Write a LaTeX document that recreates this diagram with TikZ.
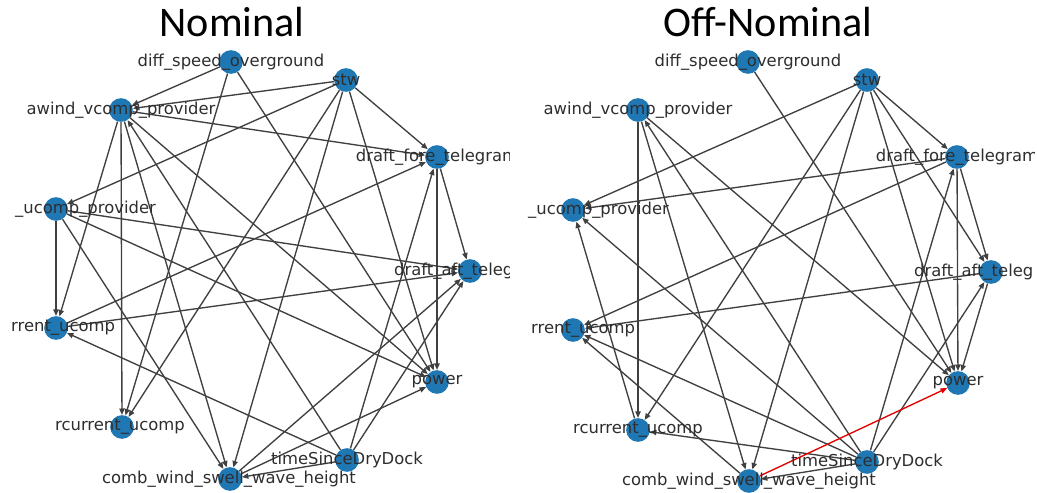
\documentclass[tikz,border=0pt]{standalone}
\usepackage{fontspec}
\setmainfont{DejaVu Sans}
\newfontfamily\titlefont{Carlito}
\usetikzlibrary{arrows.meta}
\definecolor{nxblue}{HTML}{1F77B4}
\begin{document}
\begin{tikzpicture}[x=0.03cm,y=-0.03cm,
  vtx/.style={circle,fill=nxblue,minimum size=0.71cm,inner sep=0pt},
  lbl/.style={inner sep=0pt,font=\fontsize{14}{16}\selectfont,text=black!82},
  edge/.style={draw=black!75,line width=1.15pt,-{Triangle[length=5.5pt,width=4.5pt]}},
  redge/.style={edge,draw=red!90!black},
  ttl/.style={font=\titlefont\fontsize{36}{40}\selectfont,anchor=base,inner sep=0pt}]
\useasboundingbox (0,0) rectangle (1037,492);
\fill[white] (0,0) rectangle (1037,492);
% titles
\node[ttl] (t1) at (232,36) {Nominal};
\node[ttl] (t2) at (768,36) {Off-Nominal};
% ---------- left graph nodes
\node[vtx] (D) at (231,62) {};
\node[vtx] (S) at (346,80) {};
\node[vtx] (A) at (121,110) {};
\node[vtx] (F) at (437,157) {};
\node[vtx] (U) at (56,209) {};
\node[vtx] (T) at (470,271) {};
\node[vtx] (C) at (56,328) {};
\node[vtx] (P) at (437,382) {};
\node[vtx] (R) at (122,427) {};
\node[vtx] (Y) at (347,460) {};
\node[vtx] (W) at (230,479) {};
% ---------- right graph nodes
\node[vtx] (D2) at (748,62) {};
\node[vtx] (S2) at (867,80) {};
\node[vtx] (A2) at (638,110) {};
\node[vtx] (F2) at (957,157) {};
\node[vtx] (U2) at (573,210) {};
\node[vtx] (T2) at (991,272) {};
\node[vtx] (C2) at (573,330) {};
\node[vtx] (P2) at (958,383) {};
\node[vtx] (R2) at (638,430) {};
\node[vtx] (Y2) at (867,462) {};
\node[vtx] (W2) at (749,481) {};
% ---------- left edges
\draw[edge] (D) -- (A);
\draw[edge] (D) -- (R);
\draw[edge] (D) -- (P);
\draw[edge] (S) -- (A);
\draw[edge] (S) -- (U);
\draw[edge] (S) -- (R);
\draw[edge] (S) -- (W);
\draw[edge] (S) -- (P);
\draw[edge] (S) -- (F);
\draw[edge] (A) -- (F);
\draw[edge] (A) -- (P);
\draw[edge] (A) -- (W);
\draw[edge] (A) -- (R);
\draw[edge] (A) -- (C);
\draw[edge] (Y) -- (A);
\draw[edge] (U) -- (C);
\draw[edge] (U) -- (T);
\draw[edge] (U) -- (P);
\draw[edge] (U) -- (W);
\draw[edge] (C) -- (T);
\draw[edge] (C) -- (F);
\draw[edge] (F) -- (T);
\draw[edge] (F) -- (P);
\draw[edge] (W) -- (T);
\draw[edge] (W) -- (P);
\draw[edge] (Y) -- (T);
\draw[edge] (Y) -- (F);
\draw[edge] (Y) -- (C);
\draw[edge] (Y) -- (W);
% ---------- right edges
\draw[edge] (D2) -- (P2);
\draw[edge] (S2) -- (U2);
\draw[edge] (S2) -- (R2);
\draw[edge] (S2) -- (W2);
\draw[edge] (S2) -- (P2);
\draw[edge] (S2) -- (T2);
\draw[edge] (S2) -- (F2);
\draw[edge] (A2) -- (R2);
\draw[edge] (A2) -- (W2);
\draw[edge] (Y2) -- (A2);
\draw[edge] (A2) -- (P2);
\draw[edge] (F2) -- (U2);
\draw[edge] (F2) -- (C2);
\draw[edge] (F2) -- (T2);
\draw[edge] (F2) -- (P2);
\draw[edge] (Y2) -- (F2);
\draw[edge] (T2) -- (C2);
\draw[edge] (T2) -- (P2);
\draw[edge] (Y2) -- (T2);
\draw[edge] (R2) -- (U2);
\draw[edge] (Y2) -- (U2);
\draw[edge] (Y2) -- (C2);
\draw[edge] (Y2) -- (R2);
\draw[edge] (Y2) -- (W2);
\draw[edge] (W2) -- (C2);
\draw[redge] (W2) -- (P2);
% ---------- left labels
\begin{scope}
\clip (0,0) rectangle (509,492);
\node[lbl] (lD) at (231,62) {diff\_speed\_overground};
\node[lbl] (lS) at (346,80) {stw};
\node[lbl] (lA) at (121,110) {awind\_vcomp\_provider};
\node[lbl] (lF) at (437,157) {draft\_fore\_telegram};
\node[lbl,anchor=west] (lU) at (15,209) {\_ucomp\_provider};
\node[lbl,anchor=west] (lT) at (394,271) {draft\_aft\_teleg};
\node[lbl,anchor=west] (lC) at (11,328) {rrent\_ucomp};
\node[lbl] (lP) at (437,382) {power};
\node[lbl] (lR) at (120,427) {rcurrent\_ucomp};
\node[lbl] (lY) at (347,460) {timeSinceDryDock};
\node[lbl] (lW) at (229,479) {comb\_wind\_swell\_wave\_height};
\end{scope}
% ---------- right labels
\begin{scope}
\clip (520,0) rectangle (1034,492);
\node[lbl] (mD) at (748,62) {diff\_speed\_overground};
\node[lbl] (mS) at (867,80) {stw};
\node[lbl] (mA) at (638,110) {awind\_vcomp\_provider};
\node[lbl] (mF) at (957,157) {draft\_fore\_telegram};
\node[lbl,anchor=west] (mU) at (528,210) {\_ucomp\_provider};
\node[lbl,anchor=west] (mT) at (914,272) {draft\_aft\_teleg};
\node[lbl,anchor=west] (mC) at (531,330) {rrent\_ucomp};
\node[lbl] (mP) at (958,383) {power};
\node[lbl] (mR) at (638,430) {rcurrent\_ucomp};
\node[lbl] (mY) at (867,462) {timeSinceDryDock};
\node[lbl] (mW) at (749,481) {comb\_wind\_swell\_wave\_height};
\end{scope}
\end{tikzpicture}
\end{document}
